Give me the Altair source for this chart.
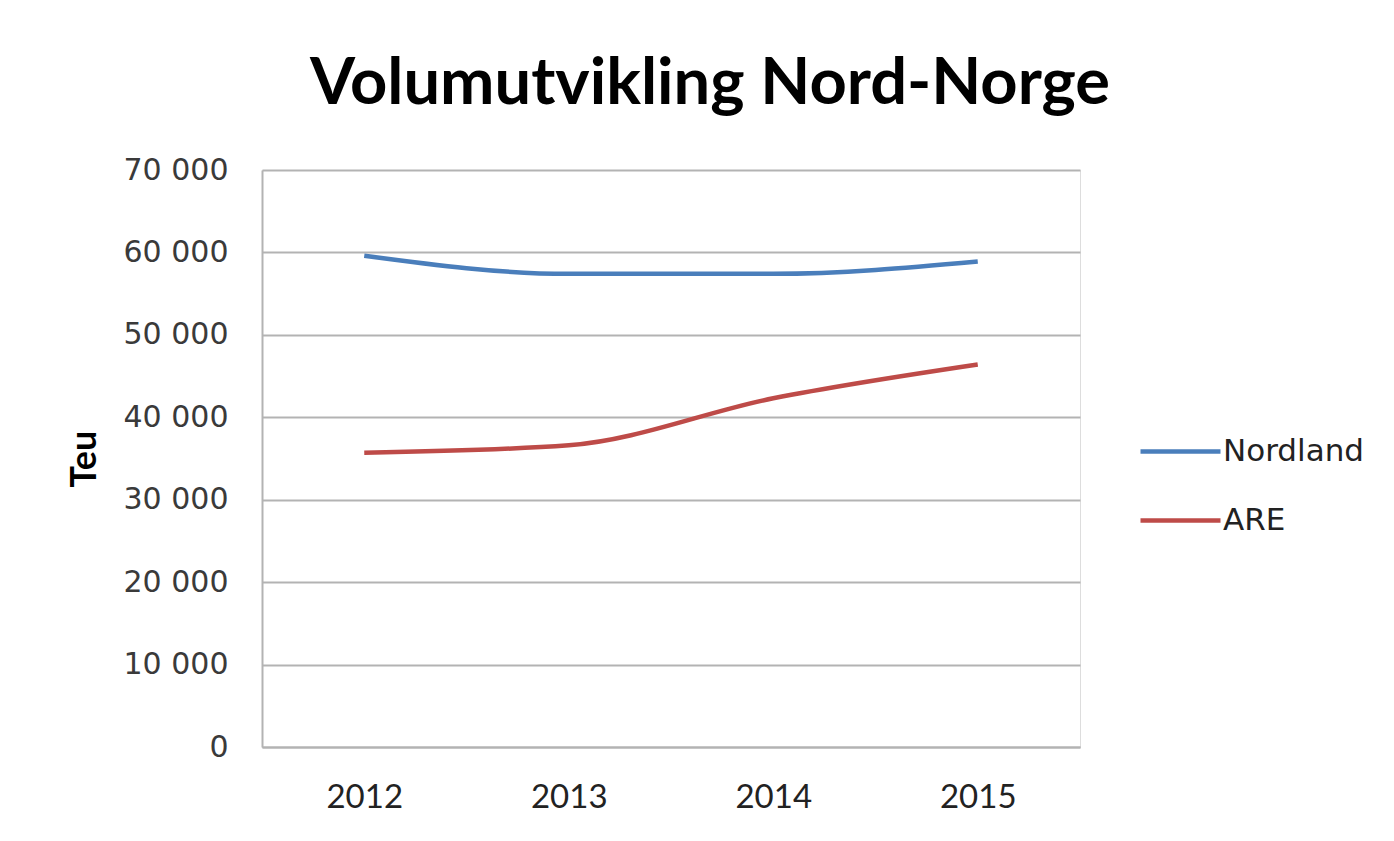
import altair as alt
import pandas as pd

years = ["2012", "2013", "2014", "2015"]
nordland = [59600, 57400, 57400, 58900]
are = [35700, 36600, 42300, 46400]
series_names = ["Nordland", "ARE"]
series_colors = ["#4a7ebb", "#be4b48"]

rows = []
for name, vals in zip(series_names, [nordland, are]):
    for y, v in zip(years, vals):
        rows.append({"År": y, "Teu": v, "Serie": name})
df = pd.DataFrame(rows)

chart = alt.Chart(df).mark_line(strokeWidth=4.5, interpolate="monotone").encode(
    x=alt.X("År:O", sort=years, title=None,
            scale=alt.Scale(type="point", padding=0.5),
            axis=alt.Axis(labelAngle=0, ticks=False, labelPadding=34, labelFont="Lato",
                          labelFontSize=33, labelColor="#222", domainColor="#b3b3b3",
                          domainWidth=2, grid=False)),
    y=alt.Y("Teu:Q", title="Teu",
            scale=alt.Scale(domain=[0, 70000], nice=False),
            axis=alt.Axis(values=list(range(0, 70001, 10000)), format=",d",
                          ticks=False, labelPadding=34, labelFont="DejaVu Sans",
                          labelFontSize=30, labelColor="#3a3a3a",
                          domainColor="#b3b3b3", domainWidth=2,
                          gridColor="#b3b3b3", gridWidth=2,
                          titleFont="Lato", titleFontSize=36, titleFontWeight="bold",
                          titleColor="#000", titleX=-159)),
    color=alt.Color("Serie:N", sort=series_names, title=None,
                    scale=alt.Scale(domain=series_names, range=series_colors),
                    legend=alt.Legend(orient="none", legendX=876, legendY=239,
                                      symbolType="stroke", symbolSize=6400,
                                      symbolStrokeWidth=4.5, labelFont="DejaVu Sans",
                                      labelFontSize=31, labelColor="#222",
                                      rowPadding=11, labelOffset=0)),
).properties(
    width=818, height=577,
    title=alt.TitleParams("Volumutvikling Nord-Norge", font="Lato", fontSize=65,
                          fontWeight="bold", color="#000", dx=39, offset=37),
    autosize=alt.AutoSizeParams(type="none"),
    padding={"left": 254, "top": 162, "right": 306, "bottom": 86},
).configure_view(strokeWidth=0, strokeOpacity=0).configure(
    locale={"number": {"decimal": ",", "thousands": " ", "grouping": [3], "currency": ["", " kr"]}}
)

chart.save("out.html", embed_options={"renderer": "svg", "actions": False})
